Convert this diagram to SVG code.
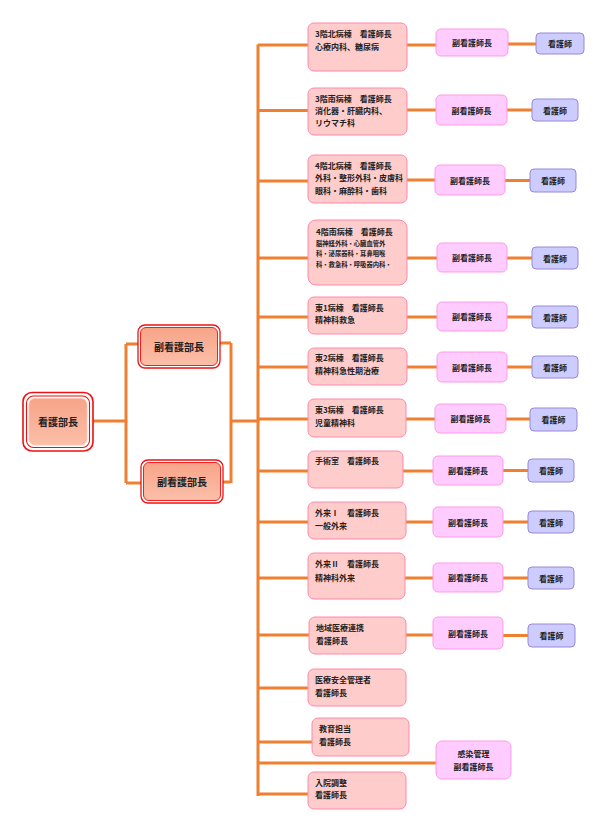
<svg xmlns="http://www.w3.org/2000/svg" width="600" height="827" viewBox="0 0 600 827">
<defs>
<linearGradient id="sal" x1="0" y1="0" x2="0" y2="1">
<stop offset="0" stop-color="#f7a488"/>
<stop offset="1" stop-color="#fbbfa9"/>
</linearGradient>
</defs>
<style>
text{font-family:"Noto Sans CJK JP","Noto Sans CJK SC",sans-serif;font-weight:bold;fill:#222;}
.t{font-size:8px;}
.s{font-size:6.3px;}
.b{font-size:10px;}
.c{text-anchor:middle;dominant-baseline:central;}
.ward{fill:#ffcccc;stroke:#ff88aa;stroke-width:1;}
.sub{fill:#ffccff;stroke:#ff99e6;stroke-width:1;}
.nur{fill:#ccccff;stroke:#9a88d8;stroke-width:1;}
.red{fill:none;stroke:#ee1111;}
.con{stroke:#f08030;stroke-width:3;fill:none;}
</style>
<rect width="600" height="827" fill="#fff"/>
<g id="connectors">
<path class="con" d="M93 421H126M126 344V483M126 344H138M126 483H141M220 343H231M223 482H231M231 343V483M231 421H258"/>
<path class="con" stroke-width="3.5" d="M258 44.5V796"/>
<path class="con" d="M258 45H308M407 45H436M508 44H536"/>
<path class="con" d="M258 110.5H308M407 110H436M507 110H532"/>
<path class="con" d="M258 181H308M407 180H435M505 180.5H530"/>
<path class="con" d="M258 258H308M407 258H437M507 258H532"/>
<path class="con" d="M258 317H308M407 317H437M507 317H532"/>
<path class="con" d="M258 367H308M407 367H437M507 367H532"/>
<path class="con" d="M258 419H308M406 419H435M506 419H530"/>
<path class="con" d="M258 471H308M403 471H433M503 470.5H528"/>
<path class="con" d="M258 522H308M406 522H433M503 522H528"/>
<path class="con" d="M258 578H308M405 578H433M503 578H528"/>
<path class="con" d="M258 635H309M406 635H433M503 635.5H528"/>
<path class="con" d="M258 688H308"/>
<path class="con" d="M258 742H312"/>
<path class="con" d="M258 763H436"/>
<path class="con" d="M258 794H308"/>
</g>
<g id="n_bucho">
<rect class="red" x="23" y="392.5" width="70" height="58.5" rx="9" stroke-width="1.6"/>
<rect class="red" x="26.5" y="396" width="63" height="51.5" rx="7" stroke-width="1.1"/>
<rect x="29" y="398.5" width="58" height="46.5" rx="6" fill="url(#sal)" stroke="#fcc4b4" stroke-width="0.8"/>
<text class="b c" x="58" y="421.5">看護部長</text>
</g>
<g id="n_fuku1">
<rect class="red" x="138" y="325" width="82" height="43" rx="7" stroke-width="1.3"/>
<rect x="140.5" y="327.5" width="77" height="38" rx="5.5" fill="url(#sal)" stroke="#ee2222" stroke-width="1"/>
<text class="b c" x="179" y="346.5">副看護部長</text>
</g>
<g id="n_fuku2">
<rect class="red" x="141" y="460" width="82" height="43" rx="7" stroke-width="1.3"/>
<rect x="143.5" y="462.5" width="77" height="38" rx="5.5" fill="url(#sal)" stroke="#ee2222" stroke-width="1"/>
<text class="b c" x="182" y="481.5">副看護部長</text>
</g>
<g id="w1"><rect class="ward" x="308" y="23" width="99" height="48" rx="6"/>
<text class="t" x="315" y="37">3階北病棟　看護師長</text><text class="t" x="315" y="50">心療内科、糖尿病</text></g>
<g id="w2"><rect class="ward" x="308" y="88" width="99" height="47" rx="6"/>
<text class="t" x="315" y="102">3階南病棟　看護師長</text><text class="t" x="315" y="114">消化器・肝臓内科、</text><text class="t" x="315" y="126">リウマチ科</text></g>
<g id="w3"><rect class="ward" x="308" y="155" width="99" height="48" rx="6"/>
<text class="t" x="315" y="169">4階北病棟　看護師長</text><text class="t" x="315" y="181">外科・整形外科・皮膚科</text><text class="t" x="315" y="194">眼科・麻酔科・歯科</text></g>
<g id="w4"><rect class="ward" x="308" y="220" width="99" height="65" rx="8"/>
<text class="t" x="316" y="235">4階南病棟　看護師長</text><text class="s" x="316" y="245.5">脳神経外科・心臓血管外</text><text class="s" x="316" y="256">科・泌尿器科・耳鼻咽喉</text><text class="s" x="316" y="266.5">科・救急科・呼吸器内科・</text></g>
<g id="w5"><rect class="ward" x="308" y="297" width="99" height="37" rx="6"/>
<text class="t" x="315" y="310.5">東1病棟　看護師長</text><text class="t" x="315" y="322.5">精神科救急</text></g>
<g id="w6"><rect class="ward" x="308" y="348" width="99" height="37" rx="6"/>
<text class="t" x="315" y="361">東2病棟　看護師長</text><text class="t" x="315" y="374">精神科急性期治療</text></g>
<g id="w7"><rect class="ward" x="308" y="399" width="98" height="38" rx="6"/>
<text class="t" x="315" y="412.5">東3病棟　看護師長</text><text class="t" x="315" y="426">児童精神科</text></g>
<g id="w8"><rect class="ward" x="308" y="451" width="95" height="37" rx="6"/>
<text class="t" x="315" y="464">手術室　看護師長</text></g>
<g id="w9"><rect class="ward" x="308" y="502" width="98" height="37" rx="6"/>
<text class="t" x="315" y="515.5">外来Ⅰ　看護師長</text><text class="t" x="315" y="529">一般外来</text></g>
<g id="w10"><rect class="ward" x="308" y="553" width="97" height="46" rx="6"/>
<text class="t" x="315" y="567">外来Ⅱ　看護師長</text><text class="t" x="315" y="580.5">精神科外来</text></g>
<g id="w11"><rect class="ward" x="309" y="617" width="97" height="37" rx="6"/>
<text class="t" x="316" y="630.5">地域医療連携</text><text class="t" x="316" y="644">看護師長</text></g>
<g id="w12"><rect class="ward" x="308" y="669" width="98" height="37" rx="6"/>
<text class="t" x="315" y="682.5">医療安全管理者</text><text class="t" x="315" y="695.5">看護師長</text></g>
<g id="w13"><rect class="ward" x="312" y="718" width="97" height="38" rx="6"/>
<text class="t" x="319" y="732">教育担当</text><text class="t" x="319" y="745">看護師長</text></g>
<g id="w14"><rect class="ward" x="308" y="772" width="98" height="37" rx="6"/>
<text class="t" x="315" y="785.5">入院調整</text><text class="t" x="315" y="798">看護師長</text></g>
<g id="s1"><rect class="sub" x="436" y="29" width="72" height="27" rx="5"/><text class="t c" x="472" y="42.5">副看護師長</text></g>
<g id="s2"><rect class="sub" x="436" y="95" width="71" height="30" rx="5"/><text class="t c" x="471.5" y="110">副看護師長</text></g>
<g id="s3"><rect class="sub" x="435" y="165" width="70" height="30" rx="5"/><text class="t c" x="470" y="180">副看護師長</text></g>
<g id="s4"><rect class="sub" x="437" y="243" width="70" height="29" rx="5"/><text class="t c" x="472" y="257.5">副看護師長</text></g>
<g id="s5"><rect class="sub" x="437" y="302" width="70" height="29" rx="5"/><text class="t c" x="472" y="316.5">副看護師長</text></g>
<g id="s6"><rect class="sub" x="437" y="352" width="70" height="30" rx="5"/><text class="t c" x="472" y="367">副看護師長</text></g>
<g id="s7"><rect class="sub" x="435" y="404" width="71" height="29" rx="5"/><text class="t c" x="470.5" y="418.5">副看護師長</text></g>
<g id="s8"><rect class="sub" x="433" y="456" width="70" height="29" rx="5"/><text class="t c" x="468" y="470.5">副看護師長</text></g>
<g id="s9"><rect class="sub" x="433" y="507" width="70" height="30" rx="5"/><text class="t c" x="468" y="522">副看護師長</text></g>
<g id="s10"><rect class="sub" x="433" y="563" width="70" height="29" rx="5"/><text class="t c" x="468" y="577.5">副看護師長</text></g>
<g id="s11"><rect class="sub" x="433" y="617" width="70" height="32" rx="5"/><text class="t c" x="468" y="633">副看護師長</text></g>
<g id="s12"><rect class="sub" x="436" y="741" width="75" height="38" rx="6"/><text class="t c" x="473.5" y="753.5">感染管理</text><text class="t c" x="473.5" y="766.5">副看護師長</text></g>
<g id="k1"><rect class="nur" x="536" y="33" width="48" height="21" rx="4"/><text class="t c" x="560" y="43.5">看護師</text></g>
<g id="k2"><rect class="nur" x="532" y="99" width="46" height="22" rx="4"/><text class="t c" x="555" y="110">看護師</text></g>
<g id="k3"><rect class="nur" x="530" y="169" width="46" height="23" rx="4"/><text class="t c" x="553" y="180.5">看護師</text></g>
<g id="k4"><rect class="nur" x="532" y="247" width="46" height="22" rx="4"/><text class="t c" x="555" y="258">看護師</text></g>
<g id="k5"><rect class="nur" x="532" y="306" width="46" height="22" rx="4"/><text class="t c" x="555" y="317">看護師</text></g>
<g id="k6"><rect class="nur" x="532" y="356" width="46" height="22" rx="4"/><text class="t c" x="555" y="367">看護師</text></g>
<g id="k7"><rect class="nur" x="530" y="408" width="47" height="23" rx="4"/><text class="t c" x="553.5" y="419.5">看護師</text></g>
<g id="k8"><rect class="nur" x="528" y="459" width="46" height="23" rx="4"/><text class="t c" x="551" y="470.5">看護師</text></g>
<g id="k9"><rect class="nur" x="528" y="511" width="46" height="22" rx="4"/><text class="t c" x="551" y="522">看護師</text></g>
<g id="k10"><rect class="nur" x="528" y="567" width="46" height="22" rx="4"/><text class="t c" x="551" y="578">看護師</text></g>
<g id="k11"><rect class="nur" x="528" y="624" width="47" height="23" rx="4"/><text class="t c" x="551.5" y="635.5">看護師</text></g>
</svg>
